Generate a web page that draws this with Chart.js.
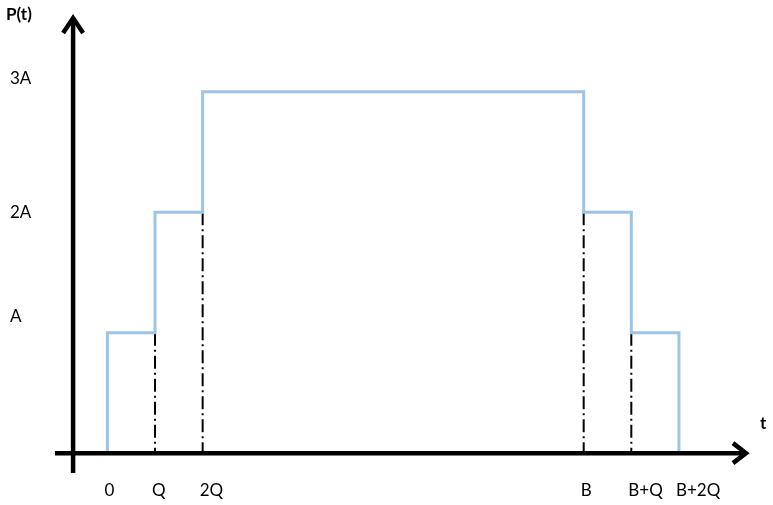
<!DOCTYPE html>
<html lang="en">
    <head>
        <meta charset="UTF-8" />
        <title>P(t)</title>
        <style>
            body {
                margin: 0;
                padding: 0;
                background: #ffffff;
            }
            #chart {
                display: block;
            }
        </style>
    </head>
    <body>
        <canvas id="chart" width="773" height="505"></canvas>
    </body>
    <script src="https://cdn.jsdelivr.net/npm/chart.js@4.4.0/dist/chart.umd.min.js"></script>
    <script>
        // time is counted in units of Q, with B taken as 10Q
        const stepX = [0, 0, 1, 1, 2, 2, 10, 10, 11, 11, 12, 12];
        const stepY = [0, 1, 1, 2, 2, 3, 3, 2, 2, 1, 1, 0];

        // dash-dot guides: from the axis up to the level of the step
        const guideX = [1, 2, 10, 11];
        const guideTop = [1, 2, 2, 1];

        const xTickLabels = ["0", "Q", "2Q", "B", "B+Q", "B+2Q"];
        const xTickValues = [0, 1, 2, 10, 11, 12];
        const yTickLabels = ["A", "2A", "3A"];
        const yTickValues = [1.13, 2.0, 3.11]; // where the labels sit in the picture

        const FONT = "Lato, 'Open Sans', sans-serif";

        let datasets = [
            {
                data: stepX.map((x, i) => ({ x: x, y: stepY[i] })),
                borderColor: "#9dc3e6",
                borderWidth: 3,
                pointRadius: 0,
                fill: false,
            },
        ];
        guideX.forEach((x, i) => {
            datasets.push({
                data: [{ x: x, y: guideTop[i] }, { x: x, y: 0 }],
                borderColor: "#000000",
                borderWidth: 2,
                borderDash: [13, 4, 2, 4],
                pointRadius: 0,
                fill: false,
            });
        });

        // black arrow axes plus the P(t) and t titles
        const arrowAxes = {
            id: "arrowAxes",
            afterDatasetsDraw(chart) {
                const ctx = chart.ctx;
                const xs = chart.scales.x;
                const ys = chart.scales.y;
                const area = chart.chartArea;
                const y0 = ys.getPixelForValue(0);
                const xAxisX = xs.getPixelForValue(-0.72);

                ctx.save();
                ctx.strokeStyle = "#000000";
                ctx.lineWidth = 4.5;
                ctx.lineCap = "butt";
                ctx.lineJoin = "miter";

                // horizontal axis
                ctx.beginPath();
                ctx.moveTo(area.left, y0);
                ctx.lineTo(area.right - 2, y0);
                ctx.stroke();
                ctx.beginPath();
                ctx.moveTo(area.right - 15, y0 - 10);
                ctx.lineTo(area.right - 2, y0);
                ctx.lineTo(area.right - 15, y0 + 10);
                ctx.stroke();

                // vertical axis
                ctx.beginPath();
                ctx.moveTo(xAxisX, area.bottom + 3);
                ctx.lineTo(xAxisX, area.top + 1);
                ctx.stroke();
                ctx.beginPath();
                ctx.moveTo(xAxisX - 10, area.top + 16);
                ctx.lineTo(xAxisX, area.top + 1);
                ctx.lineTo(xAxisX + 10, area.top + 16);
                ctx.stroke();

                ctx.fillStyle = "#000000";
                ctx.font = "bold 17px " + FONT;
                ctx.textBaseline = "middle";
                ctx.textAlign = "left";
                ctx.fillText("P(t)", 6, 15);
                ctx.fillText("t", area.right + 12, y0 - 30);
                ctx.restore();
            },
        };

        let chart = new Chart(document.getElementById("chart"), {
            type: "line",
            data: { datasets: datasets },
            options: {
                responsive: false,
                animation: false,
                devicePixelRatio: 1,
                layout: {
                    padding: { left: 10, right: 25, top: 17, bottom: 0 },
                },
                plugins: {
                    legend: { display: false },
                    tooltip: { enabled: false },
                },
                scales: {
                    x: {
                        type: "linear",
                        min: -1.1,
                        max: 13.45,
                        grid: { display: false, drawTicks: false },
                        border: { display: false },
                        afterBuildTicks: (scale) => {
                            scale.ticks = xTickValues.map((v) => ({ value: v }));
                        },
                        afterFit: (scale) => {
                            scale.height = 35;
                        },
                        ticks: {
                            autoSkip: false,
                            maxRotation: 0,
                            align: "start",
                            labelOffset: -3,
                            padding: 10,
                            color: "#000000",
                            font: { family: FONT, size: 17 },
                            callback: (value, index) => xTickLabels[index],
                        },
                    },
                    y: {
                        type: "linear",
                        min: -0.14,
                        max: 3.62,
                        grid: { display: false, drawTicks: false },
                        border: { display: false },
                        afterBuildTicks: (scale) => {
                            scale.ticks = yTickValues.map((v) => ({ value: v }));
                        },
                        afterFit: (scale) => {
                            scale.width = 45;
                        },
                        ticks: {
                            autoSkip: false,
                            crossAlign: "far",
                            color: "#000000",
                            font: { family: FONT, size: 17 },
                            callback: (value, index) => yTickLabels[index],
                        },
                    },
                },
            },
            plugins: [arrowAxes],
        });
    </script>
</html>
